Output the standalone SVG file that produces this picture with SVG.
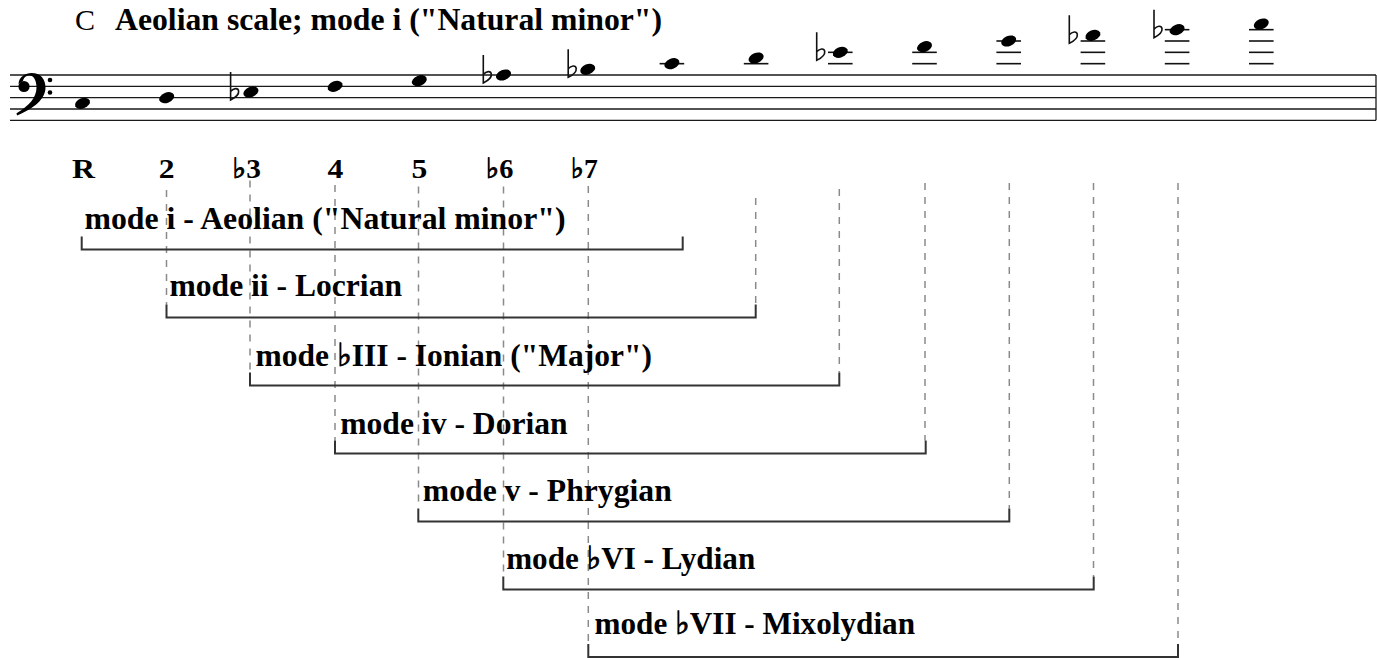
<svg xmlns="http://www.w3.org/2000/svg" width="1377" height="658" viewBox="0 0 1377 658">
<style>
  text { font-family: "Liberation Serif", "DejaVu Serif", serif; fill: #000; }
  .fl { font-family: "DejaVu Sans", "Noto Sans CJK JP", sans-serif; font-weight: bold; fill: #000; stroke: #000; stroke-width: 0.9; }
  .title { font-size: 32px; font-weight: bold; }
  .titleC { font-size: 30px; font-weight: normal; }
  .deg { font-size: 28px; font-weight: bold; }
  .mode { font-size: 32px; font-weight: bold; }
  .staff { stroke: #1a1a1a; stroke-width: 1.3; fill: none; }
  .ledger { stroke: #111; stroke-width: 1.6; }
  .guide { stroke: #8a8a8a; stroke-width: 1.5; stroke-dasharray: 7 7; fill: none; }
  .bracket { stroke: #333; stroke-width: 2; fill: none; }
  .flat { stroke: #111; stroke-width: 1.6; fill: none; }
</style>
<defs>
  <ellipse id="head" cx="0" cy="0" rx="7.8" ry="5.1" transform="rotate(-22)" fill="#000"/>
  <path id="flat" class="flat" d="M0,-20 V8 C4,6 8.5,2.5 8,-1 C7.5,-4.5 3,-4 0,-0.5"/>
</defs>

<g id="title">
  <text class="titleC" x="75" y="29.5">C</text>
  <text class="title" x="115" y="29.5" textLength="547" lengthAdjust="spacingAndGlyphs">Aeolian scale; mode i ("Natural minor")</text>
</g>

<g id="staff">
  <line class="staff" x1="10" y1="75" x2="1376" y2="75"/>
  <line class="staff" x1="10" y1="86.33" x2="1376" y2="86.33"/>
  <line class="staff" x1="10" y1="97.67" x2="1376" y2="97.67"/>
  <line class="staff" x1="10" y1="109" x2="1376" y2="109"/>
  <line class="staff" x1="10" y1="120.33" x2="1376" y2="120.33"/>
  <line class="staff" x1="1376" y1="75" x2="1376" y2="120.33"/>
  <g id="bass-clef" fill="#000">
    <path d="M18.5,84 C19,76.5 25.5,73 31.5,73 C40.5,73 45.5,79 45.5,87.5 C45.5,99 34,108.5 17,115.5 L16.5,113.2 C29,106 36.5,97.5 36.5,87.5 C36.5,80 33.5,75.5 29.5,75.5 C25.5,75.5 23.5,78 23,81 Z"/>
    <circle cx="24" cy="86.5" r="5.6"/>
    <circle cx="50" cy="80" r="2.3"/>
    <circle cx="50" cy="92.5" r="2.3"/>
  </g>
</g>

<g id="notes">
  <g class="ledger">
    <line x1="659.6" y1="63.67" x2="684.2" y2="63.67"/>
    <line x1="743.8" y1="63.67" x2="768.4" y2="63.67"/>
    <line x1="828" y1="63.67" x2="852.6" y2="63.67"/>
    <line x1="828" y1="52.33" x2="852.6" y2="52.33"/>
    <line x1="912.2" y1="63.67" x2="936.8" y2="63.67"/>
    <line x1="912.2" y1="52.33" x2="936.8" y2="52.33"/>
    <line x1="996.4" y1="63.67" x2="1021" y2="63.67"/>
    <line x1="996.4" y1="52.33" x2="1021" y2="52.33"/>
    <line x1="996.4" y1="41" x2="1021" y2="41"/>
    <line x1="1080.6" y1="63.67" x2="1105.2" y2="63.67"/>
    <line x1="1080.6" y1="52.33" x2="1105.2" y2="52.33"/>
    <line x1="1080.6" y1="41" x2="1105.2" y2="41"/>
    <line x1="1164.8" y1="63.67" x2="1189.4" y2="63.67"/>
    <line x1="1164.8" y1="52.33" x2="1189.4" y2="52.33"/>
    <line x1="1164.8" y1="41" x2="1189.4" y2="41"/>
    <line x1="1164.8" y1="29.67" x2="1189.4" y2="29.67"/>
    <line x1="1249" y1="63.67" x2="1273.6" y2="63.67"/>
    <line x1="1249" y1="52.33" x2="1273.6" y2="52.33"/>
    <line x1="1249" y1="41" x2="1273.6" y2="41"/>
    <line x1="1249" y1="29.67" x2="1273.6" y2="29.67"/>
  </g>
  <use href="#head" x="82.5" y="103.33"/>
  <use href="#head" x="166.7" y="97.67"/>
  <use href="#flat" x="230.6" y="92"/>
  <use href="#head" x="250.9" y="92"/>
  <use href="#head" x="335.1" y="86.33"/>
  <use href="#head" x="419.3" y="80.67"/>
  <use href="#flat" x="483.3" y="75"/>
  <use href="#head" x="503.5" y="75"/>
  <use href="#flat" x="568.2" y="69.33"/>
  <use href="#head" x="587.7" y="69.33"/>
  <use href="#head" x="671.9" y="63.67"/>
  <use href="#head" x="756.1" y="58"/>
  <use href="#flat" x="816.7" y="52.33"/>
  <use href="#head" x="840.3" y="52.33"/>
  <use href="#head" x="924.5" y="46.67"/>
  <use href="#head" x="1008.7" y="41"/>
  <use href="#flat" x="1069.3" y="35.33"/>
  <use href="#head" x="1092.9" y="35.33"/>
  <use href="#flat" x="1154" y="29.67"/>
  <use href="#head" x="1177.1" y="29.67"/>
  <use href="#head" x="1261.3" y="24"/>
</g>

<g id="degrees">
  <text class="deg" x="72" y="177.5" textLength="23" lengthAdjust="spacingAndGlyphs">R</text>
  <text class="deg" x="158.8" y="177.5" textLength="15.8" lengthAdjust="spacingAndGlyphs">2</text>
  <text class="deg" x="232.5" y="177.5" textLength="28.5" lengthAdjust="spacingAndGlyphs"><tspan class="fl">♭</tspan>3</text>
  <text class="deg" x="327.6" y="177.5" textLength="15.8" lengthAdjust="spacingAndGlyphs">4</text>
  <text class="deg" x="411.6" y="177.5" textLength="15.8" lengthAdjust="spacingAndGlyphs">5</text>
  <text class="deg" x="486" y="177.5" textLength="27.5" lengthAdjust="spacingAndGlyphs"><tspan class="fl">♭</tspan>6</text>
  <text class="deg" x="571" y="177.5" textLength="27" lengthAdjust="spacingAndGlyphs"><tspan class="fl">♭</tspan>7</text>
</g>

<g id="connectors">
  <line class="guide" x1="166.5" y1="190" x2="166.5" y2="304.5"/>
  <line class="guide" x1="250" y1="180.5" x2="250" y2="372.5"/>
  <line class="guide" x1="335" y1="185" x2="335" y2="440.5"/>
  <line class="guide" x1="418.5" y1="186.5" x2="418.5" y2="508.5"/>
  <line class="guide" x1="503.5" y1="186.5" x2="503.5" y2="576.5"/>
  <line class="guide" x1="588.3" y1="186" x2="588.3" y2="644"/>
  <line class="guide" x1="755.7" y1="198" x2="755.7" y2="304.5"/>
  <line class="guide" x1="839.3" y1="189" x2="839.3" y2="372.5"/>
  <line class="guide" x1="925" y1="183" x2="925" y2="440.5"/>
  <line class="guide" x1="1009.3" y1="183" x2="1009.3" y2="508.5"/>
  <line class="guide" x1="1093.5" y1="183" x2="1093.5" y2="576.5"/>
  <line class="guide" x1="1178" y1="183" x2="1178" y2="644"/>
</g>

<g id="mode-i">
  <text class="mode" x="84.5" y="229.3" textLength="481" lengthAdjust="spacingAndGlyphs">mode i - Aeolian ("Natural minor")</text>
  <path class="bracket" d="M81.7,236.5 V249.5 H682.7 V236.5"/>
</g>
<g id="mode-ii">
  <text class="mode" x="169.5" y="296" textLength="232.5" lengthAdjust="spacingAndGlyphs">mode ii - Locrian</text>
  <path class="bracket" d="M166.5,304.5 V317.5 H755.7 V304.5"/>
</g>
<g id="mode-iii">
  <text class="mode" x="255.5" y="365.5" textLength="396.5" lengthAdjust="spacingAndGlyphs">mode <tspan class="fl">♭</tspan>III - Ionian ("Major")</text>
  <path class="bracket" d="M250,372.5 V385.5 H839.3 V372.5"/>
</g>
<g id="mode-iv">
  <text class="mode" x="340.2" y="434" textLength="227.5" lengthAdjust="spacingAndGlyphs">mode iv - Dorian</text>
  <path class="bracket" d="M335,440.5 V453.5 H925.7 V440.5"/>
</g>
<g id="mode-v">
  <text class="mode" x="422.8" y="500.5" textLength="249" lengthAdjust="spacingAndGlyphs">mode v - Phrygian</text>
  <path class="bracket" d="M418.3,508.5 V521.5 H1009.3 V508.5"/>
</g>
<g id="mode-vi">
  <text class="mode" x="506.2" y="569" textLength="249" lengthAdjust="spacingAndGlyphs">mode <tspan class="fl">♭</tspan>VI - Lydian</text>
  <path class="bracket" d="M503.3,576.5 V589.5 H1093.7 V576.5"/>
</g>
<g id="mode-vii">
  <text class="mode" x="594.5" y="634" textLength="320.5" lengthAdjust="spacingAndGlyphs">mode <tspan class="fl">♭</tspan>VII - Mixolydian</text>
  <path class="bracket" d="M588.3,644 V657 H1178 V644"/>
</g>
</svg>
